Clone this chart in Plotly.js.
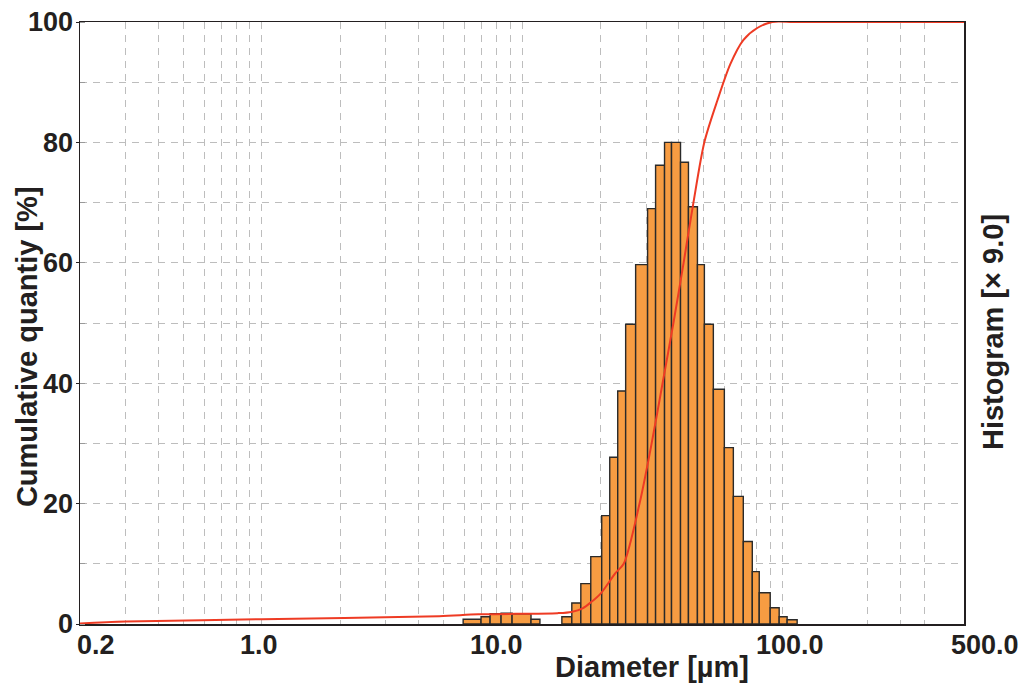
<!DOCTYPE html>
<html>
<head>
<meta charset="utf-8">
<script src="https://cdn.plot.ly/plotly-3.0.1.min.js"></script>
<style>html,body{margin:0;padding:0;background:#fff;}#chart{width:1024px;height:687px;}</style>
</head>
<body>
<div id="chart"></div>
<script>
// Histogram bins: left and right edges (µm) and heights (left-axis scale)
const binLeft  = [5.94, 6.96, 7.54, 8.31, 9.16, 10.83, 14.23, 15.54, 16.83, 18.38, 20.25, 21.74, 23.33, 25.03, 27.34, 30.39, 32.62, 35.31, 37.56, 40.67, 43.63, 47.24, 50.24, 54.39, 59.95, 64.92, 70.90, 76.77, 81.64, 89.96, 97.39, 104.5];
const binRight = [6.96, 7.54, 8.31, 9.16, 10.83, 11.72, 15.54, 16.83, 18.38, 20.25, 21.74, 23.33, 25.03, 27.34, 30.39, 32.62, 35.31, 37.56, 40.67, 43.63, 47.24, 50.24, 54.39, 59.95, 64.92, 70.90, 76.77, 81.64, 89.96, 97.39, 104.5, 114.2];
const binHeight = [0.8, 1.2, 1.7, 1.8, 1.7, 0.8, 1.2, 3.5, 6.7, 11.2, 18.0, 27.7, 38.7, 49.8, 59.7, 69.0, 76.2, 80.0, 80.0, 76.7, 69.3, 59.7, 49.8, 39.0, 29.3, 21.2, 13.7, 8.7, 5.2, 2.7, 1.2, 0.7];

// Cumulative curve
const cumDiameter = [0.2, 0.3, 1.0, 4.8, 6.8, 13.7, 15.5, 17.1, 18.4, 20.1, 22.9, 24.6, 28.3, 31.5, 34.7, 38.2, 41.8, 45.6, 50.2, 56.4, 63.2, 70.9, 80.2, 91.6, 110, 150, 250, 500];
const cumPercent  = [0.1, 0.4, 0.8, 1.3, 1.6, 1.8, 2.0, 2.6, 3.6, 5.1, 8.5, 10, 20, 30, 40, 50, 60, 70, 80, 87, 93, 97, 99, 100, 100, 100, 100, 100];

// Axis ticks
const xTickVals = [0.2, 1, 10, 100, 500];
const xTickText = ["0.2", "1.0", "10.0", "100.0", "500.0"];
const xTickShift = [16, -3, -26, 8, 21];
const xGridVals = [0.3,0.4,0.5,0.6,0.7,0.8,0.9,1,2,3,4,5,6,7,8,9,10,20,30,40,50,60,70,80,90,100,212,284,352];

const FONT = "Liberation Sans, Arial, Helvetica, sans-serif";
const DARK = "#231f20";

const bars = {
  type: "bar",
  x: binLeft,
  y: binHeight,
  width: binLeft.map((l, i) => binRight[i] - l),
  offset: 0,
  marker: {color: "#F79C42", line: {color: "#2a2a2a", width: 1.4}},
  hoverinfo: "x+y",
  showlegend: false
};

const curve = {
  type: "scatter",
  mode: "lines",
  x: cumDiameter,
  y: cumPercent,
  line: {color: "#EE3B24", width: 2, shape: "spline", smoothing: 0.8},
  cliponaxis: false,
  showlegend: false
};

const annotations = xTickVals.map((v, i) => ({
  x: Math.log10(v), xref: "x", y: 0, yref: "paper",
  text: "<b>" + xTickText[i] + "</b>", showarrow: false,
  xanchor: "center", yanchor: "top", xshift: xTickShift[i], yshift: -4,
  font: {family: FONT, size: 27, color: DARK}
}));
annotations.push({
  x: 0.647, xref: "paper", xanchor: "center", y: 0, yref: "paper", yanchor: "middle",
  text: "<b>Diameter [µm]</b>", showarrow: false, yshift: -43,
  font: {family: FONT, size: 29, color: DARK}
});
annotations.push({
  x: 0, xref: "paper", xanchor: "center", xshift: -53, y: 0.46, yref: "paper",
  text: "<b>Cumulative quantiy [%]</b>", showarrow: false, textangle: -90,
  font: {family: FONT, size: 29, color: DARK}
});
annotations.push({
  x: 1, xref: "paper", xanchor: "center", xshift: 29, y: 0.485, yref: "paper",
  text: "<b>Histogram [× 9.0]</b>", showarrow: false, textangle: -90,
  font: {family: FONT, size: 29, color: DARK}
});

const layout = {
  width: 1024, height: 687,
  margin: {l: 80, r: 60, t: 22, b: 63},
  paper_bgcolor: "#ffffff", plot_bgcolor: "#ffffff",
  bargap: 0,
  xaxis: {
    type: "log", range: [Math.log10(0.2), Math.log10(500)],
    tickvals: xGridVals, showticklabels: false, ticks: "",
    showgrid: true, gridcolor: "#bdbdbd", gridwidth: 1, griddash: "7px,6px",
    showline: true, linecolor: DARK, linewidth: 1.5, mirror: true,
    zeroline: false, fixedrange: true
  },
  yaxis: {
    range: [0, 100], tickvals: [0, 20, 40, 60, 80, 100],
    ticktext: ["<b>0</b>", "<b>20</b>", "<b>40</b>", "<b>60</b>", "<b>80</b>", "<b>100</b>"],
    tickfont: {family: FONT, size: 27, color: DARK},
    ticks: "outside", ticklen: 3, tickcolor: DARK, tickwidth: 1, ticklabelstandoff: -3,
    showgrid: true, gridcolor: "#bdbdbd", gridwidth: 1, griddash: "7px,6px",
    minor: {dtick: 10, showgrid: true, gridcolor: "#bdbdbd", griddash: "7px,6px", ticks: "inside", ticklen: 5, tickcolor: "#999"},
    showline: true, linecolor: DARK, linewidth: 1.5, mirror: true,
    zeroline: false, fixedrange: true
  },
  annotations: annotations
};

Plotly.newPlot("chart", [bars, curve], layout, {displayModeBar: false, staticPlot: true});
</script>
</body>
</html>
